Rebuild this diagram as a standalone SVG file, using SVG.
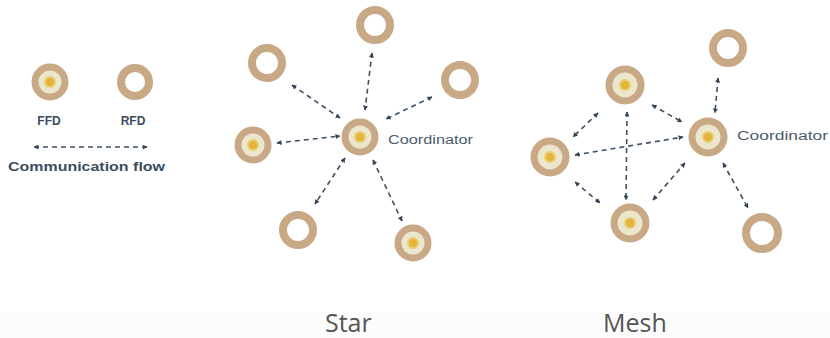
<svg xmlns="http://www.w3.org/2000/svg" width="830" height="338" viewBox="0 0 830 338">
<defs>
<marker id="ah" viewBox="0 0 10 10" refX="9" refY="5" markerWidth="5" markerHeight="5" orient="auto-start-reverse" markerUnits="userSpaceOnUse">
<path d="M0,0 L10,5 L0,10 z" fill="#34465a"/>
</marker>
<style>
.rfd{fill:#ffffff;stroke:#c9a886;stroke-width:8}
.ffd{fill:#ece6cc;stroke:#c9a886;stroke-width:7}
.dot{fill:#e4b43a;stroke:#e8d070;stroke-width:2}
.conn line{stroke:#3e4f63;stroke-width:1.6;stroke-dasharray:5,4;marker-start:url(#ah);marker-end:url(#ah)}
.lg{font-family:"Liberation Sans",Arial,sans-serif;font-weight:bold;fill:#3b4c61}
.co{font-family:"Liberation Sans",Arial,sans-serif;font-size:12px;fill:#4b5b6d}
.ttl{font-family:"Open Sans","Noto Sans",sans-serif;font-size:25px;fill:#555555}
</style>
</defs>
<rect width="830" height="338" fill="#ffffff"/>
<rect y="312" width="830" height="26" fill="#fcfcfc"/>

<!-- Legend -->
<g id="legend-ffd"><circle class="ffd" cx="50" cy="82" r="15"/><circle class="dot" cx="50" cy="82" r="5"/><text class="lg" x="49" y="125" font-size="12" text-anchor="middle">FFD</text></g>
<g id="legend-rfd"><circle class="rfd" cx="135" cy="82" r="14"/><text class="lg" x="133" y="125" font-size="12" text-anchor="middle">RFD</text></g>
<g id="legend-flow"><line x1="34" y1="147" x2="147" y2="147" stroke="#3e4f63" stroke-width="1.6" stroke-dasharray="5,4" marker-start="url(#ah)" marker-end="url(#ah)"/><text class="lg" x="8" y="171" font-size="13" textLength="157" lengthAdjust="spacingAndGlyphs">Communication flow</text></g>

<!-- Star connectors -->
<g id="star-connectors" class="conn">
<line x1="372" y1="53" x2="365" y2="110"/>
<line x1="292" y1="85" x2="340" y2="118"/>
<line x1="432" y1="97" x2="386" y2="119"/>
<line x1="277" y1="143" x2="340" y2="136"/>
<line x1="345" y1="158" x2="315" y2="204"/>
<line x1="373" y1="160" x2="402" y2="221"/>
</g>

<!-- Star nodes -->
<g id="star-coordinator"><circle class="ffd" cx="360" cy="137" r="15"/><circle class="dot" cx="360" cy="137" r="5"/><text class="co" x="388" y="144" textLength="85" lengthAdjust="spacingAndGlyphs">Coordinator</text></g>
<g id="star-top"><circle class="rfd" cx="375" cy="25" r="15"/></g>
<g id="star-upleft"><circle class="rfd" cx="267" cy="63" r="15"/></g>
<g id="star-upright"><circle class="rfd" cx="460" cy="80" r="15"/></g>
<g id="star-left"><circle class="ffd" cx="253" cy="145" r="15"/><circle class="dot" cx="253" cy="145" r="5"/></g>
<g id="star-botleft"><circle class="rfd" cx="298" cy="230" r="15"/></g>
<g id="star-botright"><circle class="ffd" cx="413" cy="243" r="15"/><circle class="dot" cx="413" cy="243" r="5"/></g>

<!-- Mesh connectors -->
<g id="mesh-connectors" class="conn">
<line x1="718" y1="78" x2="715" y2="113"/>
<line x1="652" y1="105" x2="682" y2="122"/>
<line x1="575" y1="155" x2="683" y2="137"/>
<line x1="598" y1="113" x2="573" y2="137"/>
<line x1="627" y1="112" x2="626" y2="200"/>
<line x1="575" y1="182" x2="600" y2="203"/>
<line x1="653" y1="200" x2="685" y2="163"/>
<line x1="723" y1="163" x2="748" y2="208"/>
</g>

<!-- Mesh nodes -->
<g id="mesh-coordinator"><circle class="ffd" cx="708" cy="137" r="16"/><circle class="dot" cx="708" cy="137" r="5"/><text class="co" x="737" y="140" textLength="91" lengthAdjust="spacingAndGlyphs">Coordinator</text></g>
<g id="mesh-topright"><circle class="rfd" cx="728" cy="48" r="15"/></g>
<g id="mesh-upleft"><circle class="ffd" cx="625" cy="85" r="16"/><circle class="dot" cx="625" cy="85" r="5"/></g>
<g id="mesh-left"><circle class="ffd" cx="550" cy="157" r="16"/><circle class="dot" cx="550" cy="157" r="5"/></g>
<g id="mesh-bottom"><circle class="ffd" cx="630" cy="223" r="16"/><circle class="dot" cx="630" cy="223" r="5"/></g>
<g id="mesh-botright"><circle class="rfd" cx="762" cy="233" r="16"/></g>

<!-- Titles -->
<g id="title-star"><text class="ttl" x="325" y="332">Star</text></g>
<g id="title-mesh"><text class="ttl" x="603" y="332">Mesh</text></g>
</svg>
